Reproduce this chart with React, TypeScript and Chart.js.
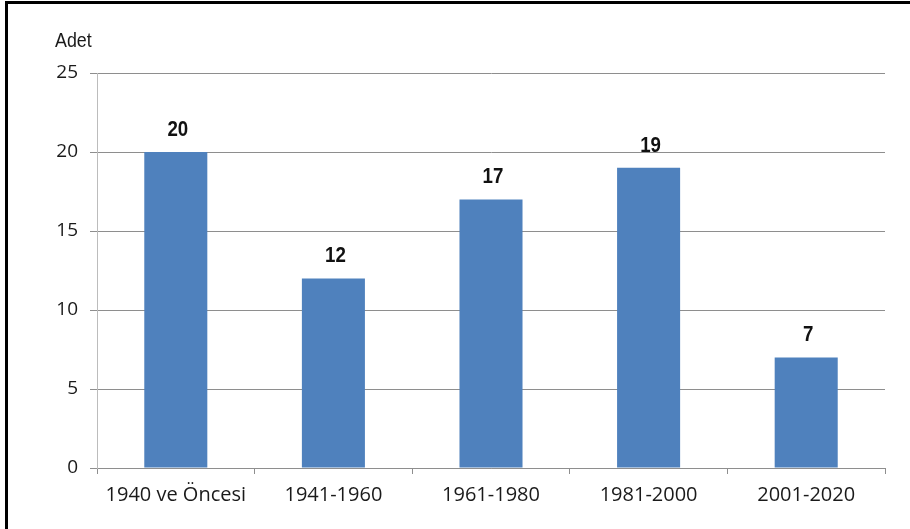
import React, { useEffect, useRef } from "react";
import { Chart, registerables } from "chart.js";

Chart.register(...registerables);

const categories = ["1940 ve Öncesi", "1941-1960", "1961-1980", "1981-2000", "2001-2020"];
const counts = [20, 12, 17, 19, 7];
const yTicks = [0, 5, 10, 15, 20, 25];
const yAxisTitle = "Adet";

const BAR_COLOR = "#4f81bd";
const GRID_COLOR = "#8e8e8e";
const AXIS_COLOR = "#bcbcbc";
const TEXT_COLOR = "#1a1a1a";
const TICK_FONT = "'Open Sans', 'DejaVu Sans', sans-serif";
const NARROW_FONT = "'Liberation Sans Narrow', 'Arial Narrow', 'Liberation Sans', sans-serif";

function narrowText(ctx: CanvasRenderingContext2D, text: string, x: number, y: number, sx: number) {
  ctx.save();
  ctx.translate(x, y);
  ctx.scale(sx, 1);
  ctx.fillText(text, 0, 0);
  ctx.restore();
}

const labelsPlugin = {
  id: "valueLabels",
  afterDatasetsDraw(chart: any) {
    const ctx = chart.ctx;
    const meta = chart.getDatasetMeta(0);
    ctx.save();
    ctx.fillStyle = "#111";
    ctx.font = `bold 22px ${NARROW_FONT}`;
    ctx.textAlign = "center";
    ctx.textBaseline = "alphabetic";
    meta.data.forEach((el: any, i: number) => {
      narrowText(ctx, String(counts[i]), el.x + 2, el.y - 16, 0.85);
    });
    // axis title
    ctx.font = `21px ${NARROW_FONT}`;
    ctx.fillStyle = TEXT_COLOR;
    ctx.textAlign = "left";
    narrowText(ctx, yAxisTitle, 55, 47, 0.85);
    ctx.restore();
  },
};

export default function App() {
  const ref = useRef<HTMLCanvasElement | null>(null);
  useEffect(() => {
    document.body.style.margin = "0";
    const canvas = ref.current!;
    const chart = new Chart(canvas, {
      type: "bar",
      data: {
        labels: categories,
        datasets: [
          {
            data: counts,
            backgroundColor: BAR_COLOR,
            borderWidth: 0,
            barPercentage: 0.4,
            categoryPercentage: 1,
          },
        ],
      },
      options: {
        responsive: false,
        animation: false,
        devicePixelRatio: 1,
        layout: { padding: { left: 0, right: 25, top: 73, bottom: 0 } },
        plugins: {
          legend: { display: false },
          tooltip: { enabled: false },
          title: { display: false },
        },
        scales: {
          x: {
            offset: true,
            grid: {
              display: true,
              drawOnChartArea: false,
              drawTicks: true,
              tickLength: 6,
              color: GRID_COLOR,
              offset: true,
            },
            border: { display: true, color: GRID_COLOR, width: 1 },
            ticks: {
              color: TEXT_COLOR,
              font: { family: TICK_FONT, size: 20 },
              padding: 9,
              maxRotation: 0,
              autoSkip: false,
            },
            afterFit(scale: any) {
              scale.height = 61;
            },
          },
          y: {
            min: 0,
            max: 25,
            afterBuildTicks(scale: any) {
              scale.ticks = yTicks.map((v) => ({ value: v }));
            },
            grid: {
              color: GRID_COLOR,
              drawTicks: true,
              tickLength: 7,
              lineWidth: 1,
            },
            border: { display: true, color: AXIS_COLOR, width: 1 },
            ticks: {
              color: TEXT_COLOR,
              font: { family: TICK_FONT, size: 19 },
              padding: 12,
            },
            afterFit(scale: any) {
              scale.width = 97;
            },
          },
        },
      },
      plugins: [labelsPlugin],
    });
    return () => chart.destroy();
  }, []);

  return (
    <div
      style={{
        position: "absolute",
        left: 0,
        top: 0,
        width: 910,
        height: 529,
        background: "#fff",
        overflow: "hidden",
      }}
    >
      <canvas ref={ref} width={910} height={529} style={{ display: "block" }} />
      <div
        style={{
          position: "absolute",
          left: 5,
          top: 1,
          width: 910,
          height: 540,
          borderLeft: "3px solid #000",
          borderTop: "3px solid #000",
          pointerEvents: "none",
        }}
      />
    </div>
  );
}
